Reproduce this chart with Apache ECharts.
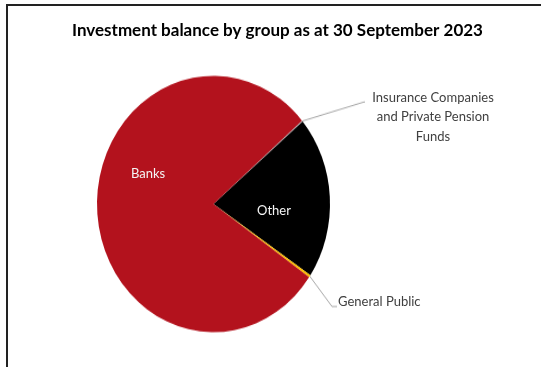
<!DOCTYPE html>
<html>
<head>
<meta charset="utf-8">
<script src="https://cdn.jsdelivr.net/npm/echarts@6/dist/echarts.min.js"></script>
<style>
  html, body { margin: 0; padding: 0; background: #fff; }
  #wrap { position: relative; width: 541px; height: 367px; overflow: hidden; background: #fff; }
  #frame { position: absolute; left: 6px; top: 4px; width: 600px; height: 400px;
           border-left: 2px solid #222; border-top: 2px solid #222; }
  /* the pie layer is drawn slightly taller than wide */
  #pie { position: absolute; left: 0; top: 0; width: 541px; height: 367px;
         transform-origin: 0 204px; transform: scaleY(1.1); }
  #text { position: absolute; left: 0; top: 0; width: 541px; height: 367px; }
</style>
</head>
<body>
<div id="wrap">
  <div id="frame"></div>
  <div id="pie"></div>
  <div id="text"></div>
</div>
<script>
// Share of investment balance by holder group (%)
const groups = ['Insurance Companies\nand Private Pension\nFunds', 'Other', 'General Public', 'Banks'];
const shares = [0.15, 20.5, 0.3, 79.05];
const colors = ['#A6A6A6', '#000000', '#FFC000', '#B3121D'];
const titleText = 'Investment balance by group as at 30 September 2023';

const FONT = 'Lato, "Open Sans", sans-serif';
const CX = 213.5, CY = 204, R = 116.5, STRETCH = 1.1, START = 40.6;

// label anchor points on the page (text layer) and leader-line ends (pie layer)
const labelSpots = {
  0: { x: 433, y: 117, align: 'center' },
  1: { x: 274, y: 211, align: 'center' },
  2: { x: 338, y: 302, align: 'left' },
  3: { x: 148, y: 174, align: 'center' }
};
const lineEnds = {
  0: { x: 365, y: 102 },
  2: { x: 337, y: 306.5 }
};
const toPieY = y => CY + (y - CY) / STRETCH;

// Layer 1: the slices and their leader lines
const pieChart = echarts.init(document.getElementById('pie'), null, { renderer: 'canvas' });
pieChart.setOption({
  animation: false,
  series: [{
    type: 'pie',
    silent: true,
    center: [CX, CY],
    radius: [0, R],
    startAngle: START,
    clockwise: true,
    avoidLabelOverlap: false,
    itemStyle: { borderWidth: 0 },
    data: groups.map((g, i) => ({
      name: g,
      value: shares[i],
      itemStyle: { color: colors[i] },
      label: { show: i === 0 || i === 2 },
      labelLine: { show: i === 0 || i === 2, length2: i === 0 ? 1 : 5 }
    })),
    // invisible, wide placeholder so each leader line meets the label from the left
    label: { position: 'outside', formatter: '          ', fontSize: 12, color: 'rgba(0,0,0,0)' },
    labelLine: { length: 10, length2: 5, smooth: false, lineStyle: { color: '#A6A6A6', width: 1 } },
    labelLayout: p => {
      const e = lineEnds[p.dataIndex];
      if (!e) return {};
      return { x: e.x, y: toPieY(e.y), align: 'left', verticalAlign: 'middle' };
    }
  }]
});

// Layer 2: title and label text
const textChart = echarts.init(document.getElementById('text'), null, { renderer: 'canvas' });
textChart.setOption({
  animation: false,
  title: {
    text: titleText,
    left: 67,
    top: 17,
    textStyle: { fontFamily: FONT, fontSize: 17, fontWeight: 'bold', color: '#000' }
  },
  series: [{
    type: 'pie',
    silent: true,
    center: [CX, CY],
    radius: [0, R],
    startAngle: START,
    clockwise: true,
    avoidLabelOverlap: false,
    itemStyle: { color: 'rgba(0,0,0,0)', borderWidth: 0 },
    data: groups.map((g, i) => ({
      name: g,
      value: shares[i],
      label: { color: (i === 1 || i === 3) ? '#F4F4F4' : '#404040' }
    })),
    label: {
      show: true,
      position: 'outside',
      formatter: '{b}',
      fontFamily: FONT,
      fontSize: 13,
      lineHeight: 19.5,
      align: 'center'
    },
    labelLine: { show: false },
    labelLayout: p => {
      const s = labelSpots[p.dataIndex];
      return { x: s.x, y: s.y, align: s.align, verticalAlign: 'middle' };
    }
  }]
});
</script>
</body>
</html>
